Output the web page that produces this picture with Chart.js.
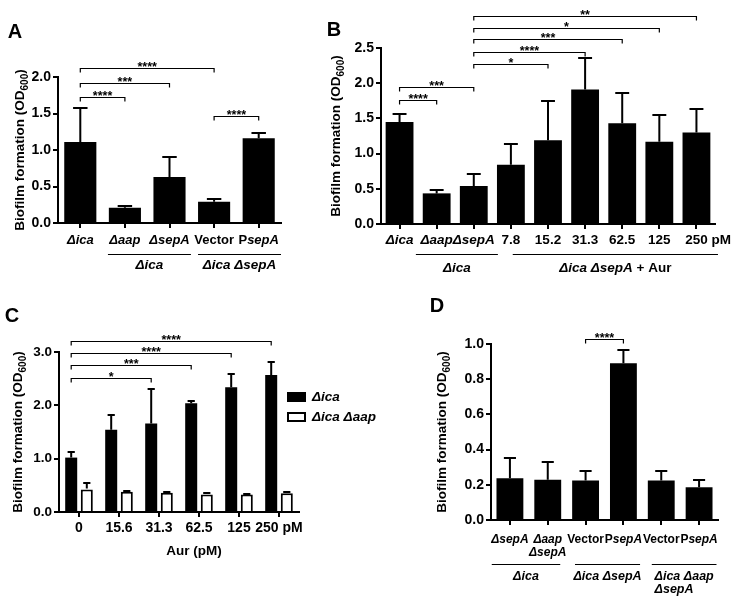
<!DOCTYPE html>
<html><head><meta charset="utf-8">
<script src="https://cdn.jsdelivr.net/npm/chart.js@4.4.0/dist/chart.umd.min.js"></script>
<style>
html,body{margin:0;padding:0;background:#fff;}
#wrap{position:relative;width:738px;height:604px;overflow:hidden;background:#fff;}
canvas{position:absolute;left:0;top:0;}
</style></head><body>
<div id="wrap">
<canvas id="cA" width="738" height="604"></canvas>
<canvas id="cB" width="738" height="604"></canvas>
<canvas id="cC" width="738" height="604"></canvas>
<canvas id="cD" width="738" height="604"></canvas>
</div>
<script>
const FONT = "'Liberation Sans', Arial, Helvetica, sans-serif";

// ---------- Panel A data ----------
const catsA = ['Δica', 'Δaap', 'ΔsepA', 'Vector', 'PsepA'];
const valsA = [1.11, 0.21, 0.63, 0.29, 1.16];
const errA  = [0.47, 0.02, 0.28, 0.04, 0.07];
const yTicksA = [0, 0.5, 1.0, 1.5, 2.0];
const sigA = [[0, 3, 2.13, '****'], [0, 2, 1.92, '***'], [0, 1, 1.72, '****'], [3, 4, 1.47, '****']];
const groupsA = [[1, 2, ['Δica']], [3, 4, ['Δica ΔsepA']]];

// ---------- Panel B data ----------
const catsB = ['Δica', 'Δaap', 'ΔsepA', '7.8', '15.2', '31.3', '62.5', '125', '250 pM'];
const valsB = [1.45, 0.435, 0.54, 0.84, 1.19, 1.91, 1.43, 1.17, 1.30];
const errB  = [0.11, 0.045, 0.17, 0.29, 0.56, 0.45, 0.43, 0.38, 0.33];
const yTicksB = [0, 0.5, 1.0, 1.5, 2.0, 2.5];
const sigB = [[2, 8, 2.96, '**'], [2, 7, 2.78, '*'], [2, 6, 2.63, '***'], [2, 5, 2.45, '****'],
              [2, 4, 2.27, '*'], [0, 2, 1.95, '***'], [0, 1, 1.76, '****']];
const groupsB = [[1, 2, ['Δica']], [3, 8, ['Δica ΔsepA + Aur']]];

// ---------- Panel C data ----------
const catsC = ['0', '15.6', '31.3', '62.5', '125', '250 pM'];
const seriesC = ['Δica', 'Δica Δaap'];
const icaC    = [1.02, 1.54, 1.66, 2.04, 2.34, 2.57];
const icaErrC = [0.11, 0.28, 0.65, 0.04, 0.25, 0.25];
const aapC    = [0.42, 0.38, 0.36, 0.33, 0.33, 0.35];
const aapErrC = [0.13, 0.01, 0.01, 0.02, 0.01, 0.02];
const yTicksC = [0, 1.0, 2.0, 3.0];
const sigC = [[0, 5, 3.20, '****'], [0, 4, 2.98, '****'], [0, 3, 2.75, '***'], [0, 2, 2.51, '*']];
const xTitleC = 'Aur (pM)';

// ---------- Panel D data ----------
const catsD = ['ΔsepA', ['Δaap', 'ΔsepA'], 'Vector', 'PsepA', 'Vector', 'PsepA'];
const valsD = [0.237, 0.228, 0.225, 0.89, 0.225, 0.186];
const errD  = [0.113, 0.102, 0.055, 0.075, 0.055, 0.042];
const yTicksD = [0, 0.2, 0.4, 0.6, 0.8, 1.0];
const sigD = [[2, 3, 1.03, '****']];
const groupsD = [[0, 1, ['Δica']], [2, 3, ['Δica ΔsepA']], [4, 5, ['Δica Δaap', 'ΔsepA']]];

const yTitle = 'Biofilm formation (OD';
const yTitleSub = '600';

// ---------- rich text helpers ----------
const GENE = /(Δ?(?:ica|aap|sepA))/;
const GENE_FULL = /^Δ?(?:ica|aap|sepA)$/;
function fnt(it, size) { return (it ? 'italic ' : '') + 'bold ' + size + 'px ' + FONT; }
function segs(t) { return t.split(GENE).filter(s => s.length).map(s => ({ t: s, it: GENE_FULL.test(s) })); }
function richW(ctx, t, size) {
  let w = 0; segs(t).forEach(s => { ctx.font = fnt(s.it, size); w += ctx.measureText(s.t).width; }); return w;
}
function drawRich(ctx, t, x, y, size, align) {
  const w = richW(ctx, t, size);
  let cx = align === 'center' ? x - w / 2 : (align === 'left' ? x : x - w);
  ctx.textAlign = 'left'; ctx.textBaseline = 'middle'; ctx.fillStyle = '#000';
  segs(t).forEach(s => { ctx.font = fnt(s.it, size); ctx.fillText(s.t, cx, y); cx += ctx.measureText(s.t).width; });
}

function decor(cfg) {
  return {
    id: 'decor',
    afterDatasetsDraw(chart) {
      const ctx = chart.ctx, ys = chart.scales.y;
      ctx.save(); ctx.strokeStyle = '#000'; ctx.lineWidth = 2;
      cfg.errs.forEach((errs, di) => {
        const meta = chart.getDatasetMeta(di), vals = chart.data.datasets[di].data;
        meta.data.forEach((bar, j) => {
          const top = ys.getPixelForValue(vals[j]) - (cfg.hollow && cfg.hollow[di] ? 1 : 0);
          const e = Math.round(ys.getPixelForValue(vals[j] + errs[j]));
          const hw = bar.width * cfg.cap / 2;
          ctx.beginPath(); ctx.moveTo(bar.x, top); ctx.lineTo(bar.x, e);
          ctx.moveTo(bar.x - hw, e); ctx.lineTo(bar.x + hw, e); ctx.stroke();
        });
      });
      ctx.restore();
    },
    afterDraw(chart) {
      const ctx = chart.ctx, ys = chart.scales.y, xs = chart.scales.x;
      ctx.save();
      // significance brackets
      const meta0 = chart.getDatasetMeta(0);
      ctx.strokeStyle = '#000'; ctx.fillStyle = '#000'; ctx.lineWidth = 1.2;
      cfg.sig.forEach(([a, b, v, txt]) => {
        const x1 = meta0.data[a].x, x2 = meta0.data[b].x;
        const y = Math.round(ys.getPixelForValue(v)) + 0.5;
        ctx.beginPath(); ctx.moveTo(x1, y + 4); ctx.lineTo(x1, y); ctx.lineTo(x2, y); ctx.lineTo(x2, y + 4); ctx.stroke();
        ctx.font = 'bold 12.5px ' + FONT; ctx.textAlign = 'center'; ctx.textBaseline = 'alphabetic';
        ctx.fillText(txt, (x1 + x2) / 2, y + 2.5);
      });
      // x tick labels
      cfg.cats.forEach((c, i) => {
        const x = xs.getPixelForTick(i);
        const lines = Array.isArray(c) ? c : [c];
        lines.forEach((ln, k) => {
          const y = cfg.labelY + k * cfg.lineH;
          if (cfg.anchorLast && i === cfg.cats.length - 1 && ln.indexOf(' ') > 0) {
            const first = ln.split(' ')[0];
            const w1 = richW(ctx, first, cfg.tickFont);
            drawRich(ctx, ln, x - w1 / 2, y, cfg.tickFont, 'left');
          } else drawRich(ctx, ln, x, y, cfg.tickFont, 'center');
        });
      });
      // group lines and labels
      if (cfg.groups) {
        const cw = xs.getPixelForTick(1) - xs.getPixelForTick(0);
        ctx.strokeStyle = '#000'; ctx.lineWidth = 1;
        cfg.groups.forEach(([a, b, lab], gi) => {
          const [kl, kr] = cfg.gpad[gi];
          const x1 = xs.getPixelForTick(a) - kl * cw, x2 = xs.getPixelForTick(b) + kr * cw;
          const ly = cfg.lineY + 0.5;
          ctx.beginPath(); ctx.moveTo(x1, ly); ctx.lineTo(x2, ly); ctx.stroke();
          const mid = (x1 + x2) / 2;
          if (lab.length === 1) drawRich(ctx, lab[0], mid, cfg.groupY, cfg.groupFont, 'center');
          else {
            const mw = Math.max(...lab.map(l => richW(ctx, l, cfg.groupFont)));
            lab.forEach((l, k) => drawRich(ctx, l, mid - mw / 2, cfg.groupY + k * cfg.lineH, cfg.groupFont, 'left'));
          }
        });
      }
      // x title
      if (cfg.xTitle) drawRich(ctx, cfg.xTitle[0], cfg.xTitle[1], cfg.xTitle[2], cfg.xTitleFont, 'center');
      // y title with subscript
      ctx.save();
      ctx.translate(cfg.yTitle[0], cfg.yTitle[1]); ctx.rotate(-Math.PI / 2);
      const big = 'bold 13.5px ' + FONT, small = 'bold 10px ' + FONT;
      ctx.font = big; const w1 = ctx.measureText(yTitle).width, w3 = ctx.measureText(')').width;
      ctx.font = small; const w2 = ctx.measureText(yTitleSub).width;
      let sx = -(w1 + w2 + w3) / 2;
      ctx.textAlign = 'left'; ctx.textBaseline = 'alphabetic'; ctx.fillStyle = '#000';
      ctx.font = big; ctx.fillText(yTitle, sx, 5); sx += w1;
      ctx.font = small; ctx.fillText(yTitleSub, sx, 9); sx += w2;
      ctx.font = big; ctx.fillText(')', sx, 5);
      ctx.restore();
      // panel letter
      ctx.font = 'bold 20px ' + FONT; ctx.textAlign = 'center'; ctx.textBaseline = 'middle'; ctx.fillStyle = '#000';
      ctx.fillText(cfg.letter[0], cfg.letter[1], cfg.letter[2]);
      // legend
      if (cfg.legend) {
        const [lx, ly, gap] = cfg.legend;
        chart.data.datasets.forEach((ds, i) => {
          const y = ly + i * gap;
          ctx.fillStyle = ds.backgroundColor; ctx.fillRect(lx, y - 5, 19, 10);
          ctx.strokeStyle = '#000'; ctx.lineWidth = 2; ctx.strokeRect(lx + 1, y - 4, 17, 8);
          drawRich(ctx, ds.label, lx + 25, y, 13.5, 'left');
        });
      }
      ctx.restore();
    }
  };
}

function build(id, cfg) {
  const [L, T, R, B] = cfg.area;
  const YW = 50, XH = 20;
  const gridOpt = { display: true, offset: false, drawOnChartArea: false, drawTicks: true, tickLength: 5,
                    tickWidth: 2, tickColor: '#000', color: '#000', lineWidth: 2 };
  return new Chart(document.getElementById(id), {
    type: 'bar',
    data: { labels: cfg.cats.map(c => Array.isArray(c) ? c.join(' ') : c), datasets: cfg.datasets },
    options: {
      responsive: false, animation: false, devicePixelRatio: 1, events: [],
      layout: { padding: { left: L - YW, top: T, right: 738 - R, bottom: 604 - B - XH } },
      plugins: { legend: { display: false }, tooltip: { enabled: false } },
      scales: {
        x: { offset: true, grid: gridOpt, border: { display: true, color: '#000', width: 2 },
             ticks: { display: false }, afterFit(s) { s.height = XH; } },
        y: { min: cfg.yTicks[0], max: cfg.yTicks[cfg.yTicks.length - 1], grid: gridOpt,
             border: { display: true, color: '#000', width: 2 },
             ticks: { color: '#000', padding: 2, font: { family: FONT, size: cfg.yTickFont, weight: 'bold' },
                      callback: v => Number(v).toFixed(1) },
             afterBuildTicks(s) { s.ticks = cfg.yTicks.map(v => ({ value: v })); },
             afterFit(s) { s.width = YW; } }
      }
    },
    plugins: [decor(cfg)]
  });
}

const black = (data, bp) => ({ data, backgroundColor: '#000', borderWidth: 0, barPercentage: bp, categoryPercentage: 1 });

build('cA', {
  area: [58, 77, 281, 223], cats: catsA, yTicks: yTicksA, datasets: [black(valsA, 0.72)],
  errs: [errA], cap: 0.45, sig: sigA, groups: groupsA, gpad: [[0.38, 0.48], [0.36, 0.5]],
  labelY: 240, lineH: 13, tickFont: 13, yTickFont: 14, lineY: 254, groupY: 265, groupFont: 13.5,
  yTitle: [19, 150], letter: ['A', 15, 32]
});

build('cB', {
  area: [381, 48, 715, 224], cats: catsB, yTicks: yTicksB, datasets: [black(valsB, 0.75)],
  errs: [errB], cap: 0.5, sig: sigB, groups: groupsB, gpad: [[0.56, 0.65], [-0.05, 0.58]],
  labelY: 240, lineH: 13, tickFont: 13.5, yTickFont: 14, lineY: 254, groupY: 268, groupFont: 13.5,
  anchorLast: true, yTitle: [335, 136], letter: ['B', 334, 30]
});

build('cC', {
  area: [59, 352, 299, 512], cats: catsC, yTicks: yTicksC,
  datasets: [
    { label: seriesC[0], data: icaC, backgroundColor: '#000', borderWidth: 0, barPercentage: 0.77, categoryPercentage: 0.78 },
    { label: seriesC[1], data: aapC, backgroundColor: '#fff', borderColor: '#000', borderWidth: 2, barPercentage: 0.77, categoryPercentage: 0.78 }
  ],
  errs: [icaErrC, aapErrC], hollow: [false, true], cap: 0.6, sig: sigC,
  labelY: 528, lineH: 13, tickFont: 14, yTickFont: 13.5,
  xTitle: [xTitleC, 194, 551], xTitleFont: 13.5,
  legend: [287, 397, 20], yTitle: [17, 432], letter: ['C', 12, 316]
});

build('cD', {
  area: [491, 344, 718, 520], cats: catsD, yTicks: yTicksD, datasets: [black(valsD, 0.71)],
  errs: [errD], cap: 0.45, sig: sigD, groups: groupsD, gpad: [[0.48, 0.33], [0.28, 0.44], [0.25, 0.46]],
  labelY: 540, lineH: 13, tickFont: 12, yTickFont: 14, lineY: 564, groupY: 577, groupFont: 12.5,
  yTitle: [441, 432], letter: ['D', 437, 306]
});
</script>
</body></html>
